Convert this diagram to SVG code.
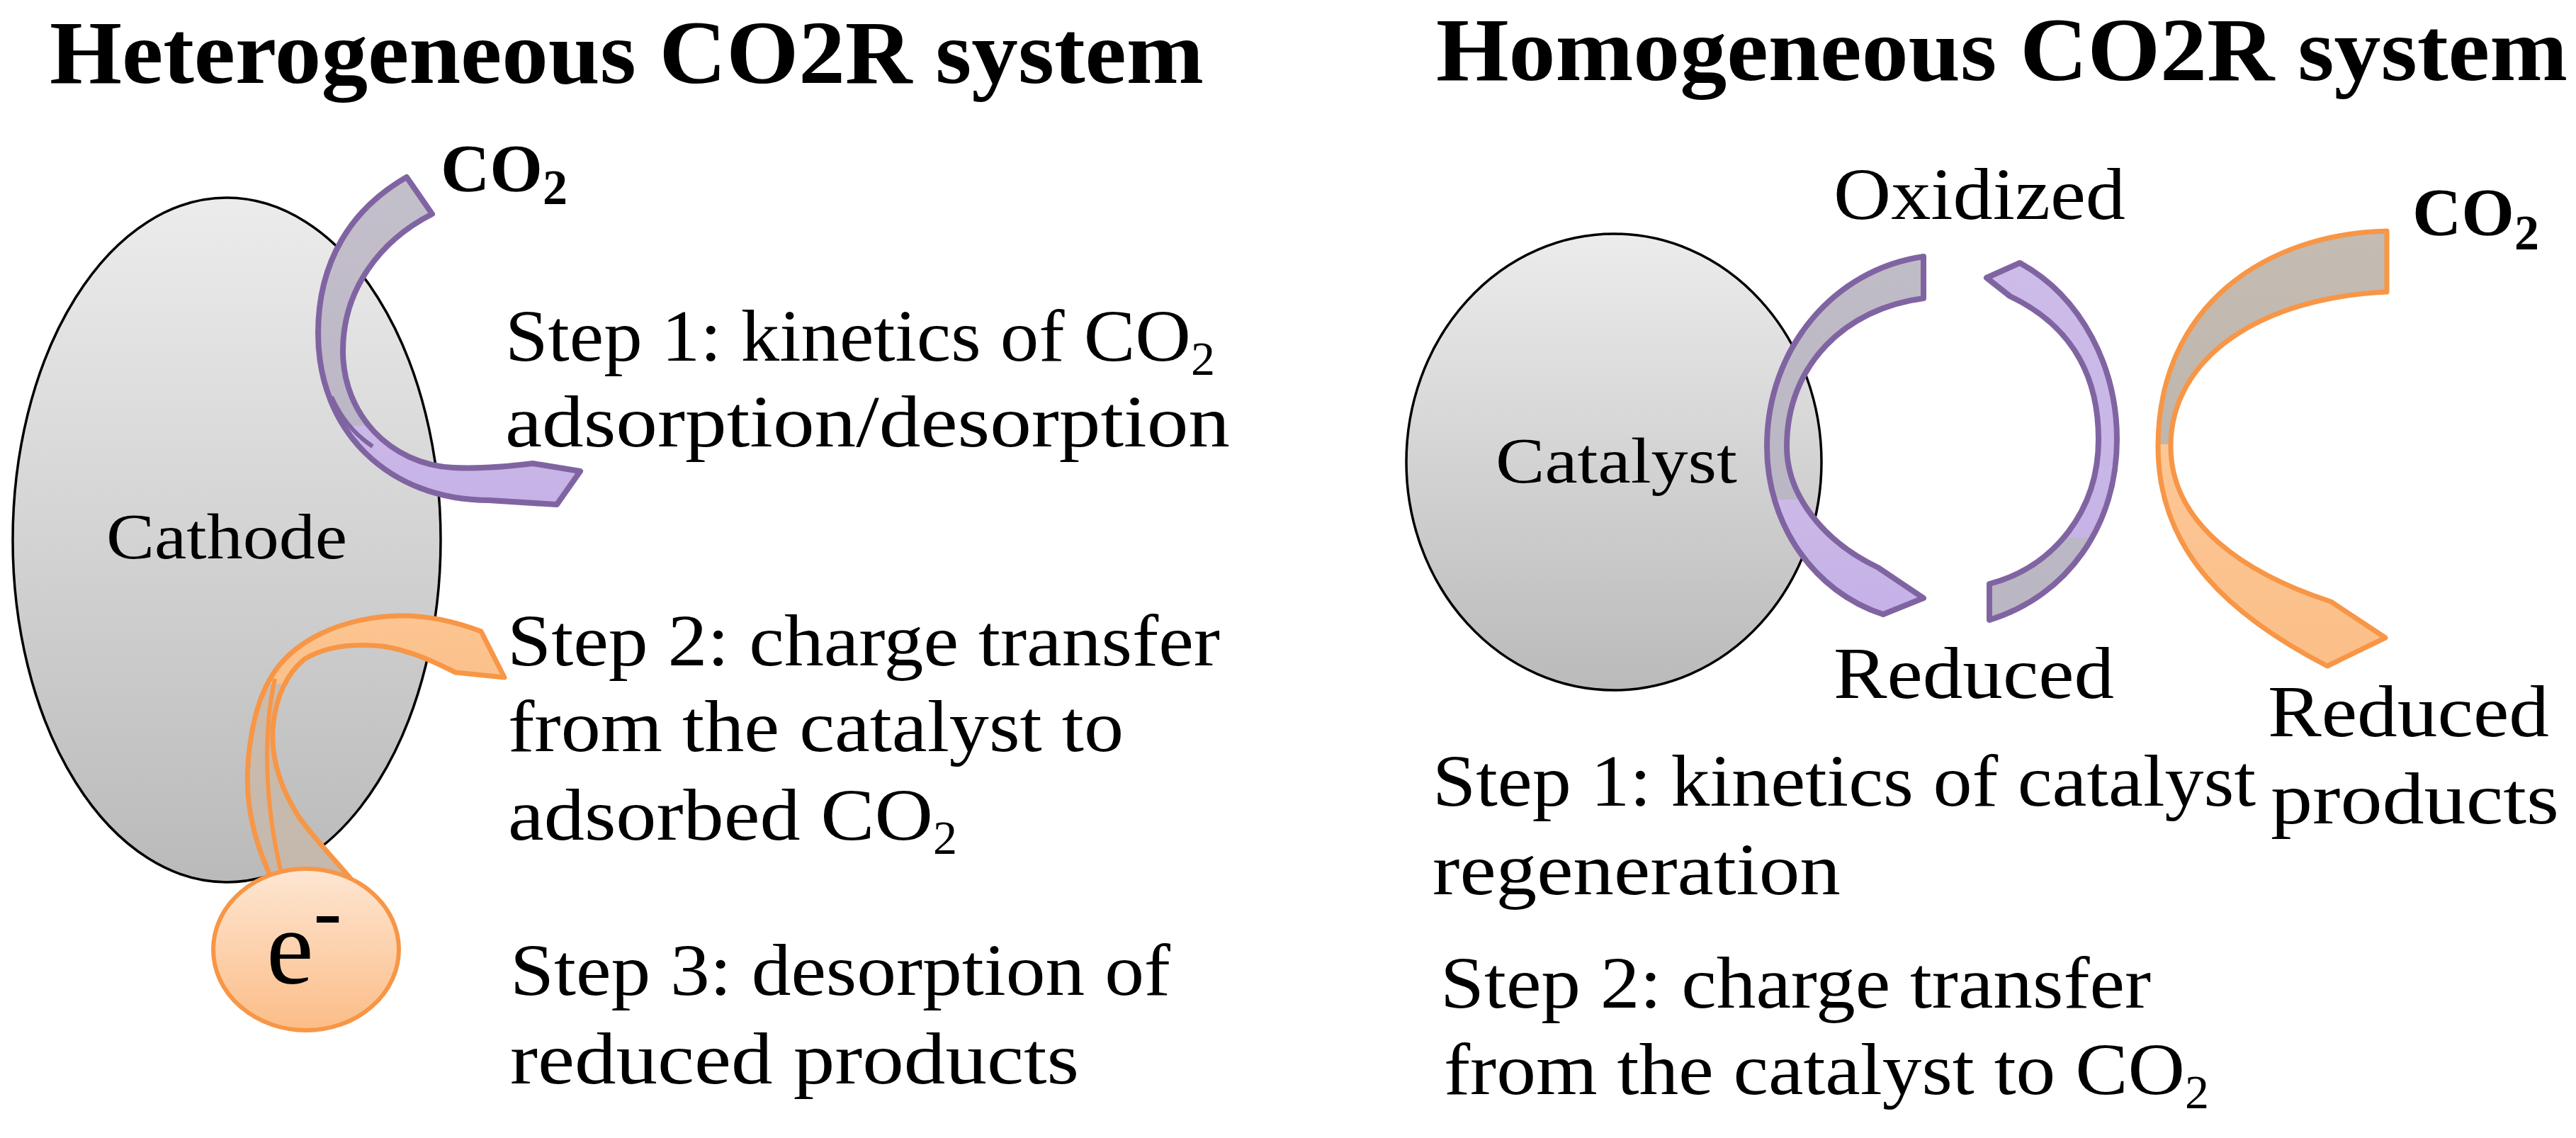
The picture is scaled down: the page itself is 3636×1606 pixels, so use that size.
<svg xmlns="http://www.w3.org/2000/svg" width="3636" height="1606" viewBox="0 0 3636 1606">
<style>
.t{font-family:"Liberation Serif","Times New Roman",serif;font-size:104px;fill:#000}
.title{font-weight:bold;font-size:126px}
.lbl{font-size:92px}
.co2{font-family:"Liberation Serif","Times New Roman",serif;font-weight:bold;font-size:96px;fill:#000}
.sub{font-size:68px}
.body{stroke:#000;stroke-width:3.5}
.pur{stroke:#8064a2;stroke-width:8;stroke-linejoin:round}
.org{stroke:#f79646;stroke-width:7;stroke-linejoin:round}
.fold{fill:none;stroke-width:6}
</style>
<defs>
<linearGradient id="gBody" x1="0" y1="0" x2="0" y2="1">
<stop offset="0" stop-color="#ececec"/><stop offset="1" stop-color="#bababa"/>
</linearGradient>
<linearGradient id="gE" x1="0" y1="0" x2="0" y2="1">
<stop offset="0" stop-color="#fee6d3"/><stop offset="1" stop-color="#fbbd87"/>
</linearGradient>
<linearGradient id="gP1" gradientUnits="userSpaceOnUse" x1="0" y1="250" x2="0" y2="712">
<stop offset="0" stop-color="#c4c0ca"/><stop offset="0.76" stop-color="#bcb6c6"/><stop offset="0.76" stop-color="#cbb9e8"/><stop offset="1" stop-color="#c6b2e6"/>
</linearGradient>
<linearGradient id="gO1" gradientUnits="userSpaceOnUse" x1="0" y1="869" x2="0" y2="1240">
<stop offset="0" stop-color="#fcc591"/><stop offset="0.26" stop-color="#fbc08b"/><stop offset="0.26" stop-color="#cbbcad"/><stop offset="1" stop-color="#c4b8ad"/>
</linearGradient>
<linearGradient id="gP2" gradientUnits="userSpaceOnUse" x1="0" y1="362" x2="0" y2="867">
<stop offset="0" stop-color="#c0bcc6"/><stop offset="0.68" stop-color="#bbb6c4"/><stop offset="0.68" stop-color="#cbb9e8"/><stop offset="1" stop-color="#c5b1e6"/>
</linearGradient>
<linearGradient id="gP3" gradientUnits="userSpaceOnUse" x1="0" y1="371" x2="0" y2="875">
<stop offset="0" stop-color="#cdbce9"/><stop offset="0.77" stop-color="#c6b4e6"/><stop offset="0.77" stop-color="#bcb7c4"/><stop offset="1" stop-color="#bab6c2"/>
</linearGradient>
<linearGradient id="gO2" gradientUnits="userSpaceOnUse" x1="0" y1="326" x2="0" y2="940">
<stop offset="0" stop-color="#c4bbb3"/><stop offset="0.49" stop-color="#bfb6ad"/><stop offset="0.49" stop-color="#fcc796"/><stop offset="1" stop-color="#fbbf88"/>
</linearGradient>
</defs>
<rect width="3636" height="1606" fill="#fff"/>

<g id="title-heterogeneous"><text class="t title" x="70" y="117" textLength="1629" lengthAdjust="spacingAndGlyphs">Heterogeneous CO2R system</text></g>
<g id="title-homogeneous"><text class="t title" x="2027" y="113" textLength="1597" lengthAdjust="spacingAndGlyphs">Homogeneous CO2R system</text></g>

<g id="cathode">
<ellipse class="body" cx="320" cy="762" rx="302" ry="483" fill="url(#gBody)"/>
<text class="t lbl" x="150" y="788" textLength="340" lengthAdjust="spacingAndGlyphs">Cathode</text>
</g>

<g id="catalyst">
<ellipse class="body" cx="2278" cy="652" rx="293" ry="322" fill="url(#gBody)"/>
<text class="t lbl" x="2111" y="681" textLength="341" lengthAdjust="spacingAndGlyphs">Catalyst</text>
</g>

<g id="connectors">
<g id="arrow-co2-adsorption">
<path class="pur" fill="url(#gP1)" d="M574 250 C495 295 449 370 449 470 C449 610 550 706 690 706 L786 712 L819 665 L752 654 C720 658 680 662 640 660 C550 655 484 585 484 495 C484 410 535 340 610 302 Z"/>
<path class="pur fold" d="M468 560 Q488 605 526 630"/>
</g>
<g id="arrow-electron">
<path class="org" fill="url(#gO1)" d="M712 956 L679 891 C640 876 600 868 561 869 C480 872 410 905 380 960 C352 1010 345 1090 352 1139 C358 1180 370 1210 383 1240 L495 1240 C470 1210 440 1180 420 1150 C395 1110 383 1070 385 1030 C388 985 405 950 430 930 C460 912 500 908 540 912 C580 918 615 935 643 949 Z"/>
<path class="org fold" d="M388 958 C372 1030 372 1130 398 1236"/>
</g>
<g id="arrow-catalyst-reduce">
<path class="pur" fill="url(#gP2)" d="M2715 362 C2590 380 2494 490 2494 630 C2494 740 2560 835 2658 867 L2715 844 L2651 801 C2575 765 2522 700 2522 630 C2522 515 2605 435 2715 421 Z"/>
</g>
<g id="arrow-catalyst-oxidize">
<path class="pur" fill="url(#gP3)" d="M2851 371 C2940 420 2988 520 2988 620 C2988 740 2920 840 2808 875 L2808 824 C2900 800 2962 720 2962 620 C2962 520 2915 455 2837 418 L2804 392 Z"/>
</g>
<g id="arrow-co2-reduction">
<path class="org" fill="url(#gO2)" d="M3369 326 C3200 330 3046 430 3046 630 C3046 780 3150 870 3285 940 L3367 900 L3290 849 C3170 810 3064 740 3064 630 C3064 505 3190 420 3369 412 Z"/>
</g>
</g>

<g id="electron">
<ellipse cx="432" cy="1340" rx="131" ry="114" fill="url(#gE)" stroke="#f79646" stroke-width="6"/>
<text class="t" x="376" y="1388" style="font-size:150px">e<tspan style="font-size:120px" dy="-62">-</tspan></text>
</g>

<g id="co2-left"><text class="co2" x="622" y="270">CO<tspan class="sub" style="font-size:70px" dy="18">2</tspan></text></g>
<g id="co2-right"><text class="co2" x="3405" y="332">CO<tspan style="font-size:70px" dy="20">2</tspan></text></g>

<g id="steps-heterogeneous">
<text class="t" x="713" y="509"><tspan textLength="968" lengthAdjust="spacingAndGlyphs">Step 1: kinetics of CO</tspan><tspan class="sub" dy="20">2</tspan></text>
<text class="t" x="713" y="630" textLength="1023" lengthAdjust="spacingAndGlyphs">adsorption/desorption</text>
<text class="t" x="716" y="939" textLength="1006" lengthAdjust="spacingAndGlyphs">Step 2: charge transfer</text>
<text class="t" x="717" y="1060" textLength="869" lengthAdjust="spacingAndGlyphs">from the catalyst to</text>
<text class="t" x="717" y="1185"><tspan textLength="600" lengthAdjust="spacingAndGlyphs">adsorbed CO</tspan><tspan class="sub" dy="20">2</tspan></text>
<text class="t" x="720" y="1404" textLength="932" lengthAdjust="spacingAndGlyphs">Step 3: desorption of</text>
<text class="t" x="720" y="1529" textLength="803" lengthAdjust="spacingAndGlyphs">reduced products</text>
</g>

<g id="label-oxidized"><text class="t" x="2588" y="309" textLength="412" lengthAdjust="spacingAndGlyphs">Oxidized</text></g>
<g id="label-reduced"><text class="t" x="2588" y="985" textLength="396" lengthAdjust="spacingAndGlyphs">Reduced</text></g>
<g id="label-reduced-products">
<text class="t" x="3201" y="1039" textLength="397" lengthAdjust="spacingAndGlyphs">Reduced</text>
<text class="t" x="3205" y="1162" textLength="407" lengthAdjust="spacingAndGlyphs">products</text>
</g>

<g id="steps-homogeneous">
<text class="t" x="2022" y="1137" textLength="1162" lengthAdjust="spacingAndGlyphs">Step 1: kinetics of catalyst</text>
<text class="t" x="2022" y="1262" textLength="576" lengthAdjust="spacingAndGlyphs">regeneration</text>
<text class="t" x="2033" y="1422" textLength="1003" lengthAdjust="spacingAndGlyphs">Step 2: charge transfer</text>
<text class="t" x="2038" y="1544"><tspan textLength="1046" lengthAdjust="spacingAndGlyphs">from the catalyst to CO</tspan><tspan class="sub" dy="20">2</tspan></text>
</g>
</svg>
